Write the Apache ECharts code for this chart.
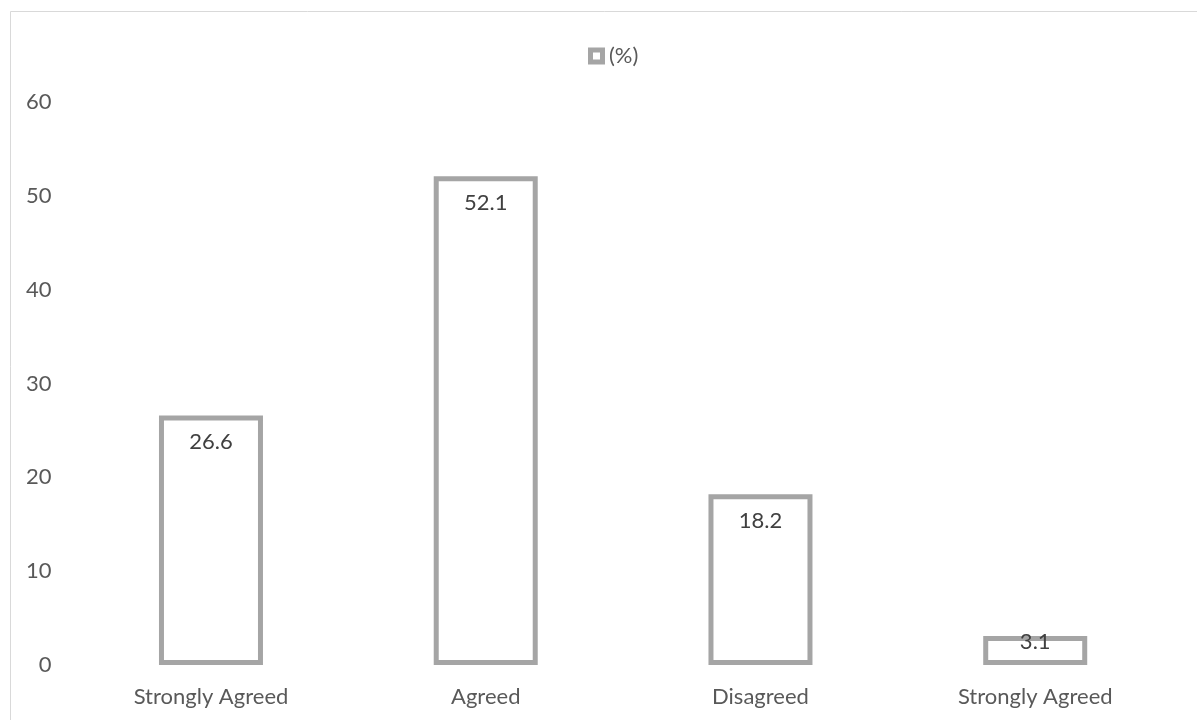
<!DOCTYPE html>
<html>
<head>
<meta charset="utf-8">
<script src="https://cdn.jsdelivr.net/npm/echarts@6/dist/echarts.min.js"></script>
<style>
html,body{margin:0;padding:0;background:#fff;}
#chart{width:1197px;height:720px;}
</style>
</head>
<body>
<div id="chart"></div>
<script>
const categories = ['Strongly Agreed', 'Agreed', 'Disagreed', 'Strongly Agreed'];
const percentValues = [26.6, 52.1, 18.2, 3.1];
const seriesName = '(%)';
const yTicks = [0, 10, 20, 30, 40, 50, 60];

const FONT = 'Lato, "Open Sans", sans-serif';
const chart = echarts.init(document.getElementById('chart'), null, {renderer: 'canvas'});

const barData = percentValues.map(function (v) {
  if (v < 5) {
    return {value: v, label: {position: 'insideTop', distance: 0, offset: [0, -5]}};
  }
  return v;
});

chart.setOption({
  animation: false,
  backgroundColor: '#ffffff',
  graphic: [{
    type: 'rect',
    silent: true,
    shape: {x: 10.5, y: 11.5, width: 1400, height: 900},
    style: {fill: 'none', stroke: '#D9D9D9', lineWidth: 1}
  }],
  legend: {
    left: 583,
    top: 40,
    itemWidth: 17,
    itemHeight: 17,
    data: [{name: seriesName, icon: 'path://M0,0H17V17H0Z M5,5V12H12V5Z'}],
    itemStyle: {color: '#A5A5A5', borderWidth: 0},
    textStyle: {color: '#595959', fontSize: 22, fontFamily: FONT, padding: [0, 0, 0, -1]}
  },
  grid: {left: 73.6, right: 24.4, top: 102, bottom: 55, containLabel: false},
  xAxis: {
    type: 'category',
    data: categories,
    axisLine: {show: false},
    axisTick: {show: false},
    axisLabel: {color: '#595959', fontSize: 22, fontFamily: FONT, margin: 21, interval: 0}
  },
  yAxis: {
    type: 'value',
    min: yTicks[0],
    max: yTicks[yTicks.length - 1],
    interval: 10,
    splitLine: {show: false},
    axisLine: {show: false},
    axisTick: {show: false},
    axisLabel: {color: '#595959', fontSize: 22, fontFamily: FONT, margin: 22}
  },
  series: [{
    name: seriesName,
    type: 'bar',
    data: barData,
    barWidth: 104,
    itemStyle: {color: '#ffffff', borderColor: '#A5A5A5', borderWidth: 5},
    label: {
      show: true,
      position: 'insideTop',
      distance: 16,
      color: '#404040',
      fontSize: 22,
      fontFamily: FONT
    }
  }]
});
</script>
</body>
</html>
